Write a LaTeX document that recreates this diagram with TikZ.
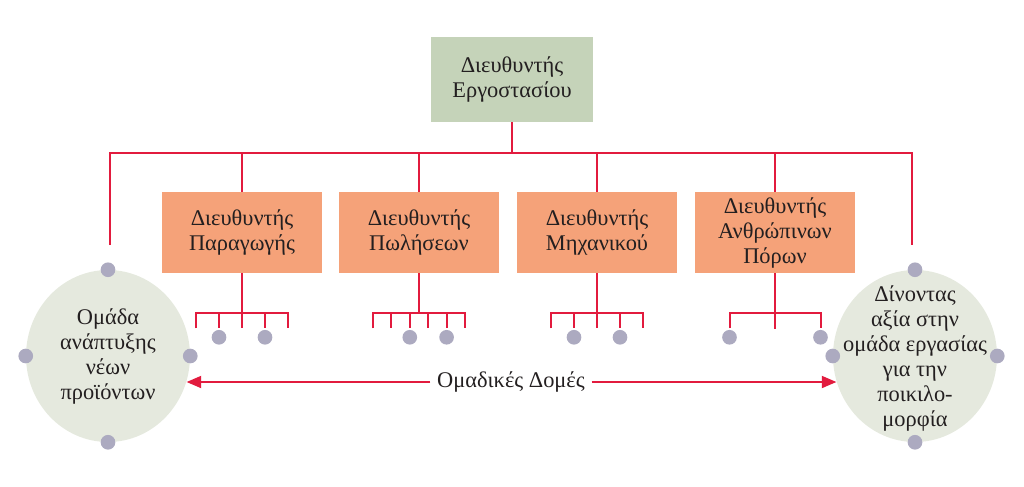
\documentclass[tikz,border=0pt]{standalone}
\usepackage{fontspec}
\setmainfont{Liberation Serif}
\usetikzlibrary{arrows.meta,calc,shapes.geometric}
\definecolor{LineClr}{RGB}{226,27,62}
\definecolor{HeadClr}{RGB}{197,211,185}
\definecolor{DeptClr}{RGB}{245,162,121}
\definecolor{TeamClr}{RGB}{229,233,222}
\definecolor{DotClr}{RGB}{172,170,192}
\definecolor{TextClr}{RGB}{35,31,32}

\begin{document}
\begin{tikzpicture}[x=0.75pt,y=-0.75pt,
  every node/.style={text=TextClr,font=\fontsize{16.8}{18.75}\selectfont,align=center},
  head/.style={fill=HeadClr,minimum width=121.5pt,minimum height=63.75pt,inner sep=0pt},
  dept/.style={fill=DeptClr,minimum width=120pt,minimum height=60.75pt,inner sep=0pt},
  team/.style={ellipse,fill=TeamClr,minimum width=123pt,minimum height=129pt,inner sep=0pt},
  dot/.style={circle,fill=DotClr,minimum size=11pt,inner sep=0pt},
  link/.style={draw=LineClr,line width=1.5pt},
  tip/.style={-{Triangle[length=11pt,width=9pt]}}]
\useasboundingbox (0,0) rectangle (1024,486);

% boxes
\node[head] (hd) at (512,79.5) {Διευθυντής\\Εργοστασίου};
\node[dept] (d1) at (242,232.5) {Διευθυντής\\Παραγωγής};
\node[dept] (d2) at (419,232.5) {Διευθυντής\\Πωλήσεων};
\node[dept] (d3) at (597,232.5) {Διευθυντής\\Μηχανικού};
\node[dept] (d4) at (775,232.5) {Διευθυντής\\Ανθρώπινων\\Πόρων};

% teams
\node[team] (tL) at (108,356) {};
\node[team] (tR) at (915,356) {};
\node (tLt) at (tL) {Ομάδα\\ανάπτυξης\\νέων\\προϊόντων};
\node (tRt) at (915,358) {Δίνοντας\\αξία στην\\ομάδα εργασίας\\για την\\ποικιλο-\\μορφία};
\foreach \t in {tL,tR}
  \foreach \a in {north,south,east,west}
    \node[dot] (\t-\a) at (\t.\a) {};

% bus
\coordinate (busL) at (110,153);
\coordinate (busR) at (912,153);
\coordinate (endL) at (110,245);
\coordinate (endR) at (912,245);
\draw[link] (hd.south) -- (hd.south |- busL);
\draw[link] (endL) -- (busL) -- (busR) -- (endR);
\foreach \d in {d1,d2,d3,d4}
  \draw[link] (\d.north) -- (\d.north |- busL);

% small groups
\foreach \d in {d1,d2,d3,d4}
  \draw[link] (\d.south) -- ++(0,40) coordinate (\d-s);

\foreach \d in {d1,d3}{
  \draw[link] ($(\d-s)+(-46,15)$) -- ($(\d-s)+(-46,0)$) -- ($(\d-s)+(46,0)$) -- ++(0,15);
  \foreach \dx in {-23,0,23}
    \draw[link] ($(\d-s)+(\dx,0)$) -- ++(0,15);
  \foreach \dx [count=\i] in {-23,23}
    \node[dot] (\d-p\i) at ($(\d-s)+(\dx,24)$) {};
}

\draw[link] ($(d2-s)+(-46,15)$) -- ($(d2-s)+(-46,0)$) -- ($(d2-s)+(46,0)$) -- ++(0,15);
\foreach \dx in {-27.6,-9.2,9.2,27.6}
  \draw[link] ($(d2-s)+(\dx,0)$) -- ++(0,15);
\node[dot] (d2-p1) at ($(d2-s)+(-9.2,24)$) {};
\node[dot] (d2-p2) at ($(d2-s)+(27.6,24)$) {};

\draw[link] ($(d4-s)+(-45.5,15)$) -- ($(d4-s)+(-45.5,0)$) -- ($(d4-s)+(45.5,0)$) -- ++(0,15);
\draw[link] (d4-s) -- ++(0,16);
\node[dot] (d4-p1) at ($(d4-s)+(-45.5,24)$) {};
\node[dot] (d4-p2) at ($(d4-s)+(45.5,24)$) {};

% team structures
\node[inner sep=5pt] (gl) at (511,382) {Ομαδικές Δομές};
\draw[link,tip] (gl.west) -- (gl.west -| tL.-18);
\draw[link,tip] (gl.east) -- (gl.east -| tR.198);

\end{tikzpicture}
\end{document}
